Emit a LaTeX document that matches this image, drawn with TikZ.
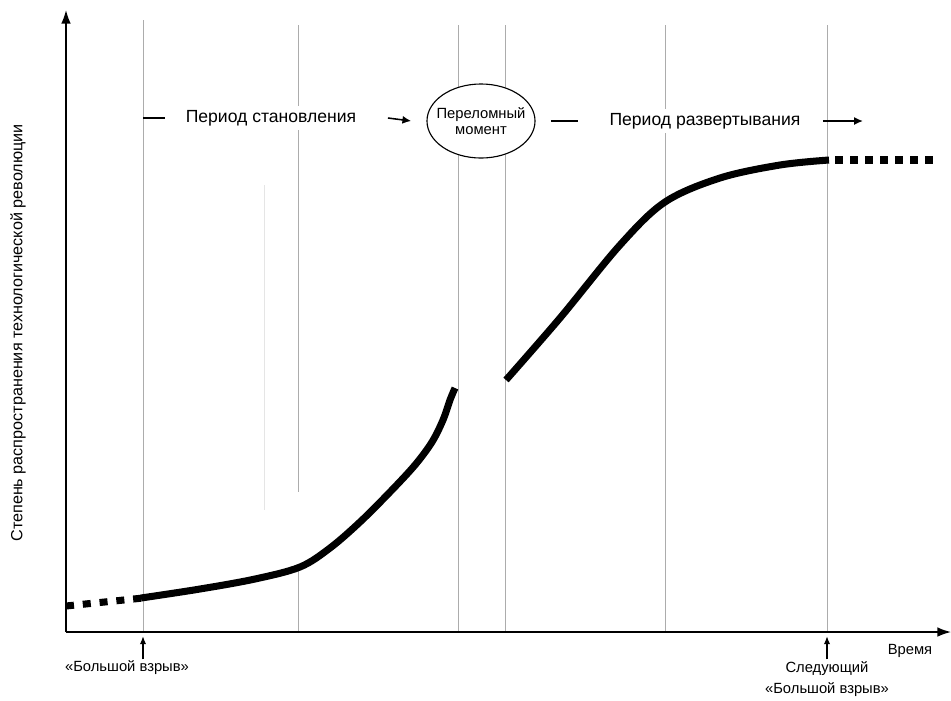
\documentclass[tikz,border=0pt]{standalone}
\usepackage{fontspec}
\setmainfont{Liberation Sans}
\usetikzlibrary{arrows.meta, positioning, shapes.geometric}

\begin{document}
\begin{tikzpicture}[
    x=0.025cm, y=-0.025cm,
    guide/.style={draw=gray!65, line width=0.5pt},
    faint/.style={draw=gray!20, line width=0.4pt},
    axis/.style={-{Latex[length=3.4mm, width=2.4mm]}, line width=1.1pt},
    curve/.style={line width=5pt, line cap=butt},
    arrow/.style={-{Latex[length=2.2mm, width=2mm]}, line width=1.1pt},
    marker/.style={-{Latex[length=2mm, width=1.6mm]}, line width=0.9pt},
    period/.style={font=\fontsize{12.5}{14}\selectfont, fill=white, inner sep=3pt},
    label/.style={font=\fontsize{10.5}{15.5}\selectfont, align=center, inner sep=1pt}
]
\useasboundingbox (0,0) rectangle (951,700);

% Axes
\coordinate (origin) at (66,632);
\coordinate (ytop) at (66,10);
\coordinate (xend) at (951,632);
\coordinate (bangx) at (143,632);
\coordinate (nextx) at (827,632);

% Guide lines
\draw[faint] (264,185) -- (264,510);
\draw[guide] (143,20) -- (bangx);
\draw[guide] (298,25) -- (298,492) (298,570) -- (298,632);
\foreach \gx in {458,505,665} {
    \draw[guide] (\gx,25) -- (\gx,632);
}
\draw[guide] (827,25) -- (nextx);

\draw[axis] (origin) -- (ytop);
\draw[axis] (origin) -- (xend);

% Period labels
\node[period] (stan) at (271,118) {Период становления};
\node[label, ellipse, draw, line width=0.8pt, fill=white, minimum width=2.7cm,
      minimum height=1.85cm, inner xsep=-4.5pt, inner ysep=0pt] (crit) at (481,121)
      {Переломный\\[-4pt]момент};
\node[period] (razv) at (705,121) {Период развертывания};

\draw[line width=0.8pt] (bangx |- stan) -- ++(22,0);
\draw[arrow] ([xshift=0.68cm]stan.east) -- ([xshift=-0.38cm]crit.west);
\draw[line width=0.8pt] ([xshift=0.38cm]crit.east) -- ++(27,0);
\draw[arrow] ([xshift=0.45cm]razv.east) -- ++(40,0);

% The curve
\draw[curve, dash pattern=on 5.7pt off 6.3pt] (66,606) -- (143,598);
\draw[curve] plot[smooth, tension=0.55] coordinates {
    (141,598) (200,589) (255,579) (300,567) (330,548) (360,522)
    (390,492) (415,465) (432,442) (443,420) (450,400) (455,388)};
\draw[curve] plot[smooth, tension=0.55] coordinates {
    (506,380) (560,318) (620,245) (665,202) (720,178) (780,165) (829,160)};
\draw[curve, dash pattern=on 5.7pt off 5pt] (835,160) -- (935,160);

% Axis labels
\node[label, rotate=90, font=\fontsize{11.5}{13}\selectfont] (ylab) at (18,333)
    {Степень распространения технологической революции};
\node[label] (time) at (910,651) {Время};
\node[label] (bang) at (127,668) {«Большой взрыв»};
\node[label] (nextbang) at (827,679) {Следующий\\«Большой взрыв»};

\draw[marker] (bang.north -| bangx) -- ([yshift=-3]bangx);
\draw[marker] (nextbang.north -| nextx) -- ([yshift=-3]nextx);

\end{tikzpicture}
\end{document}
